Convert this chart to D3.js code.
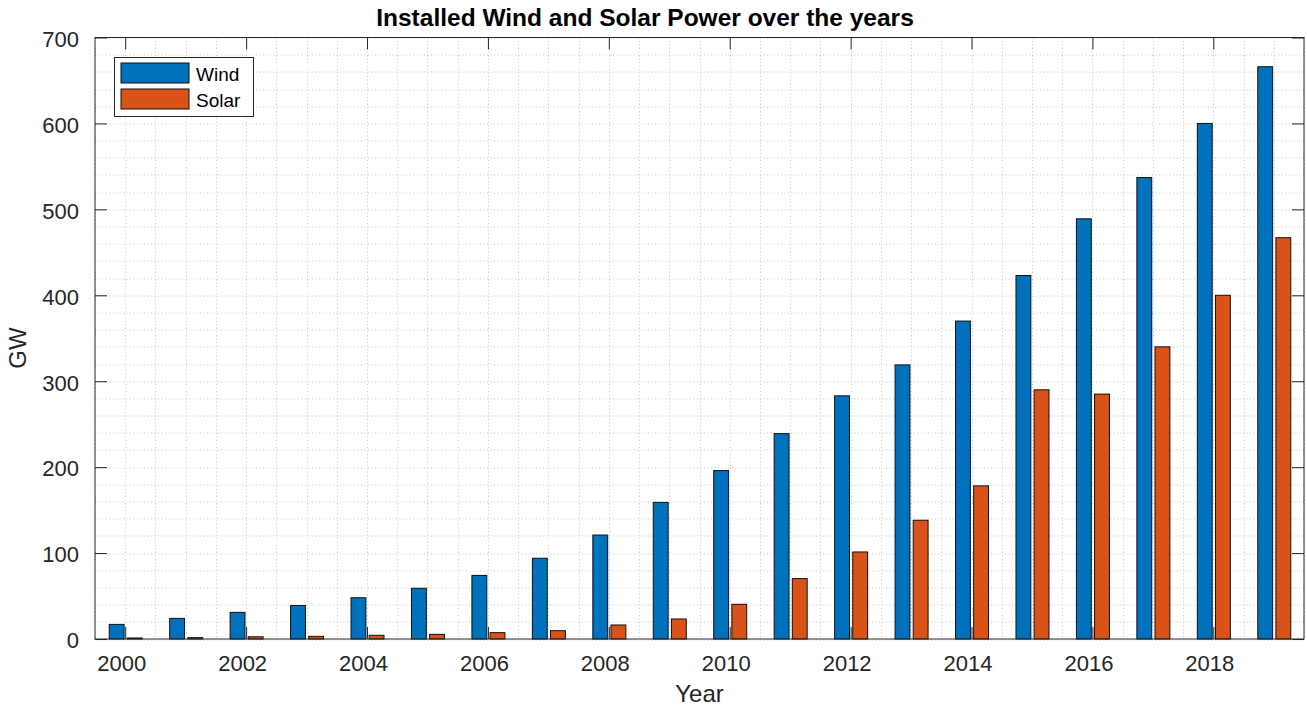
<!DOCTYPE html>
<html>
<head>
<meta charset="utf-8">
<script src="https://cdn.jsdelivr.net/npm/d3@7"></script>
<style>
  body { margin: 0; background: #fff; overflow: hidden; }
  svg { display: block; }
  text { font-family: "Liberation Sans", Arial, sans-serif; }
</style>
</head>
<body>
<div id="chart"></div>
<script>
// data
const years = [2000, 2001, 2002, 2003, 2004, 2005, 2006, 2007, 2008, 2009,
               2010, 2011, 2012, 2013, 2014, 2015, 2016, 2017, 2018, 2019];
const wind = [17, 24, 31, 39, 48, 59, 74, 94, 121, 159,
              196, 239, 283, 319, 370, 423, 489, 537, 600, 666];
const solar = [1.2, 1.6, 2.6, 3.1, 4.3, 5.4, 7.4, 9.7, 16.3, 23.3,
               40.4, 70.3, 101.3, 138.2, 178.2, 290, 285, 340, 400, 467];
const series = ["Wind", "Solar"];
const seriesColors = ["#0072BD", "#D95319"];
const xTickValues = [2000, 2002, 2004, 2006, 2008, 2010, 2012, 2014, 2016, 2018];
const yTickValues = [0, 100, 200, 300, 400, 500, 600, 700];

const width = 1307;
const height = 706;
const margin = { top: 37.5, right: 3, bottom: 67, left: 95 };
const innerWidth = width - margin.left - margin.right;
const innerHeight = height - margin.top - margin.bottom;
const axisColor = "#262626";

const svg = d3
  .select("#chart")
  .append("svg")
  .attr("width", width)
  .attr("height", height);

const g = svg
  .append("g")
  .attr("transform", `translate(${margin.left},${margin.top})`);

const x = d3.scaleLinear().domain([1999.5, 2019.5]).range([0, innerWidth]);
const y = d3.scaleLinear().domain([0, 700]).range([innerHeight, 0]);
const sub = d3.scaleBand().domain(series).range([-16, 17]).paddingInner(0.18);
const color = d3.scaleOrdinal().domain(series).range(seriesColors);

// dotted grid (major + minor)
const gridX = d3.range(1999.5, 2019.51, 0.5);
const gridY = d3.range(0, 700.1, 20);
const grid = g.append("g")
  .attr("stroke", "#c8c8c8")
  .attr("stroke-width", 1)
  .attr("stroke-dasharray", "1,2.5");
grid.selectAll(".gx")
  .data(gridX)
  .join("line")
  .attr("x1", (d) => Math.round(x(d)) + 0.5)
  .attr("x2", (d) => Math.round(x(d)) + 0.5)
  .attr("y1", 0)
  .attr("y2", innerHeight);
grid.selectAll(".gy")
  .data(gridY)
  .join("line")
  .attr("x1", 0)
  .attr("x2", innerWidth)
  .attr("y1", (d) => Math.round(y(d)) + 0.5)
  .attr("y2", (d) => Math.round(y(d)) + 0.5);

// bars
const rows = years.map((yr, i) => ({ year: yr, Wind: wind[i], Solar: solar[i] }));
g.append("g")
  .selectAll("g")
  .data(rows)
  .join("g")
  .attr("transform", (d) => `translate(${x(d.year)},0)`)
  .selectAll("rect")
  .data((d) => series.map((key) => ({ key, value: d[key] })))
  .join("rect")
  .attr("x", (d) => sub(d.key))
  .attr("width", sub.bandwidth())
  .attr("y", (d) => y(d.value))
  .attr("height", (d) => y(0) - y(d.value))
  .attr("fill", (d) => color(d.key))
  .attr("stroke", "#111")
  .attr("stroke-width", 1);

// axes
const styleAxis = (sel) => {
  sel.select(".domain").remove();
  sel.selectAll(".tick line").attr("stroke", axisColor);
  sel.selectAll("text")
    .attr("fill", axisColor)
    .style("font-size", "22px");
};

g.append("g")
  .attr("transform", `translate(0,${innerHeight})`)
  .call(d3.axisBottom(x).tickValues(xTickValues).tickFormat(d3.format("d"))
    .tickSizeInner(-12).tickSizeOuter(0).tickPadding(16))
  .call(styleAxis)
  .call((a) => a.selectAll("text").attr("dx", -4));

g.append("g")
  .call(d3.axisTop(x).tickValues(xTickValues)
    .tickSizeInner(-12).tickSizeOuter(0))
  .call(styleAxis)
  .call((a) => a.selectAll("text").remove());

g.append("g")
  .call(d3.axisLeft(y).tickValues(yTickValues)
    .tickSizeInner(-12).tickSizeOuter(0).tickPadding(16))
  .call(styleAxis)
  .call((a) => a.selectAll("text").attr("dy", "0.4em"));

g.append("g")
  .attr("transform", `translate(${innerWidth},0)`)
  .call(d3.axisRight(y).tickValues(yTickValues)
    .tickSizeInner(-12).tickSizeOuter(0))
  .call(styleAxis)
  .call((a) => a.selectAll("text").remove());

// box
g.append("rect")
  .attr("x", 0)
  .attr("y", 0)
  .attr("width", innerWidth)
  .attr("height", innerHeight)
  .attr("fill", "none")
  .attr("stroke", axisColor)
  .attr("stroke-width", 1);

// labels
svg.append("text")
  .attr("x", 645)
  .attr("y", 26)
  .attr("text-anchor", "middle")
  .attr("font-weight", "bold")
  .attr("font-size", 24.5)
  .attr("fill", "#000")
  .text("Installed Wind and Solar Power over the years");

svg.append("text")
  .attr("x", margin.left + innerWidth / 2)
  .attr("y", 702)
  .attr("text-anchor", "middle")
  .attr("font-size", 24)
  .attr("fill", axisColor)
  .text("Year");

svg.append("text")
  .attr("transform", "translate(26,348) rotate(-90)")
  .attr("text-anchor", "middle")
  .attr("font-size", 24)
  .attr("fill", axisColor)
  .text("GW");

// legend
const legend = svg.append("g").attr("transform", "translate(114,57)");
legend.append("rect")
  .attr("x", 0.5)
  .attr("y", 0.5)
  .attr("width", 139)
  .attr("height", 59)
  .attr("fill", "#fff")
  .attr("stroke", axisColor);
const items = legend.selectAll(".item")
  .data(series)
  .join("g")
  .attr("transform", (d, i) => `translate(7,${6 + i * 26})`);
items.append("rect")
  .attr("width", 68)
  .attr("height", 20)
  .attr("fill", (d) => color(d))
  .attr("stroke", "#111");
items.append("text")
  .attr("x", 75)
  .attr("y", 18)
  .attr("font-size", 19)
  .attr("fill", "#000")
  .text((d) => d);
</script>
</body>
</html>
